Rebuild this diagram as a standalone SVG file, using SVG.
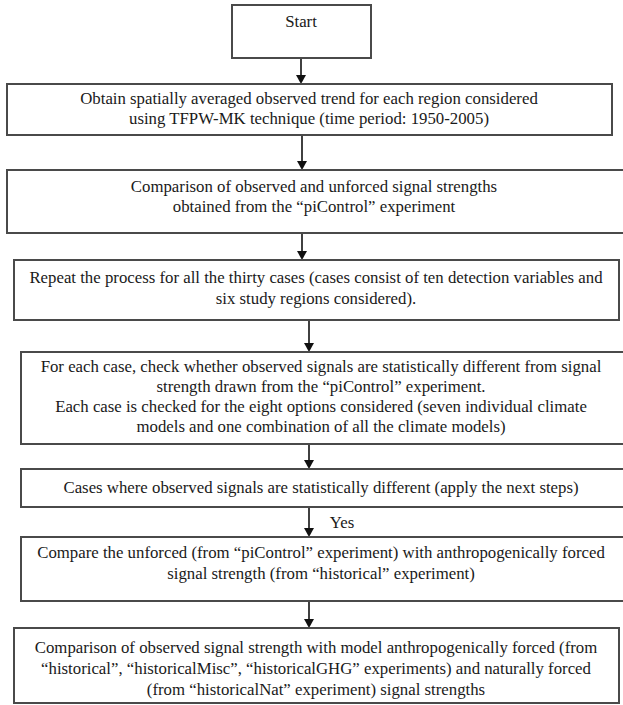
<svg xmlns="http://www.w3.org/2000/svg" width="623" height="705" viewBox="0 0 623 705">
<defs>
<style>
.box{fill:#fff;stroke:#4a4a4a;stroke-width:2}
.t{font-family:'Liberation Serif','DejaVu Serif',serif;font-size:16.8px;fill:#1a1a1a;text-anchor:middle}
.c{stroke:#111;stroke-width:1.6;fill:none}
.h{fill:#111}
</style>
</defs>
<rect width="623" height="705" fill="#fff"/>
<g id="connectors">
<line class="c" x1="301" y1="58" x2="301" y2="78"/>
<line class="c" x1="302" y1="135" x2="302" y2="164"/>
<line class="c" x1="302" y1="233" x2="302" y2="254"/>
<line class="c" x1="309" y1="320" x2="309" y2="346"/>
<line class="c" x1="309" y1="444" x2="309" y2="463"/>
<line class="c" x1="309" y1="507" x2="309" y2="531"/>
<line class="c" x1="309" y1="601" x2="309" y2="622"/>
<path class="h" d="M296,75 L306,75 L301,84 Z"/>
<path class="h" d="M297,161 L307,161 L302,170 Z"/>
<path class="h" d="M297,251 L307,251 L302,260 Z"/>
<path class="h" d="M304,343 L314,343 L309,352 Z"/>
<path class="h" d="M304,460 L314,460 L309,469 Z"/>
<path class="h" d="M304,528 L314,528 L309,537 Z"/>
<path class="h" d="M304,619 L314,619 L309,628 Z"/>
<text class="t" x="342" y="528">Yes</text>
</g>
<g id="start">
<rect class="box" x="232" y="5" width="139" height="53"/>
<text class="t" x="301" y="27">Start</text>
</g>
<g id="obtain">
<rect class="box" x="7" y="84" width="605" height="51"/>
<text class="t" x="309" y="104">Obtain spatially averaged observed trend for each region considered</text>
<text class="t" x="309" y="124">using TFPW-MK technique (time period: 1950-2005)</text>
</g>
<g id="compare-unforced">
<rect class="box" x="7" y="170" width="620" height="63"/>
<text class="t" x="314" y="192">Comparison of observed and unforced signal strengths</text>
<text class="t" x="314" y="212">obtained from the “piControl” experiment</text>
</g>
<g id="repeat">
<rect class="box" x="14" y="260" width="605" height="60"/>
<text class="t" x="316" y="283">Repeat the process for all the thirty cases (cases consist of ten detection variables and</text>
<text class="t" x="316" y="304">six study regions considered).</text>
</g>
<g id="check">
<rect class="box" x="21" y="352" width="606" height="92"/>
<text class="t" x="321" y="372">For each case, check whether observed signals are statistically different from signal</text>
<text class="t" x="321" y="392">strength drawn from the “piControl” experiment.</text>
<text class="t" x="321" y="412">Each case is checked for the eight options considered (seven individual climate</text>
<text class="t" x="321" y="432">models and one combination of all the climate models)</text>
</g>
<g id="cases">
<rect class="box" x="21" y="469" width="606" height="38"/>
<text class="t" x="321" y="493">Cases where observed signals are statistically different (apply the next steps)</text>
</g>
<g id="compare-forced">
<rect class="box" x="21" y="537" width="606" height="64"/>
<text class="t" x="321" y="558">Compare the unforced (from “piControl” experiment) with anthropogenically forced</text>
<text class="t" x="321" y="579">signal strength (from “historical” experiment)</text>
</g>
<g id="comparison-final">
<rect class="box" x="14" y="628" width="605" height="75"/>
<text class="t" x="316" y="653">Comparison of observed signal strength with model anthropogenically forced (from</text>
<text class="t" x="316" y="674">“historical”, “historicalMisc”, “historicalGHG” experiments) and naturally forced</text>
<text class="t" x="316" y="695">(from “historicalNat” experiment) signal strengths</text>
</g>
</svg>
